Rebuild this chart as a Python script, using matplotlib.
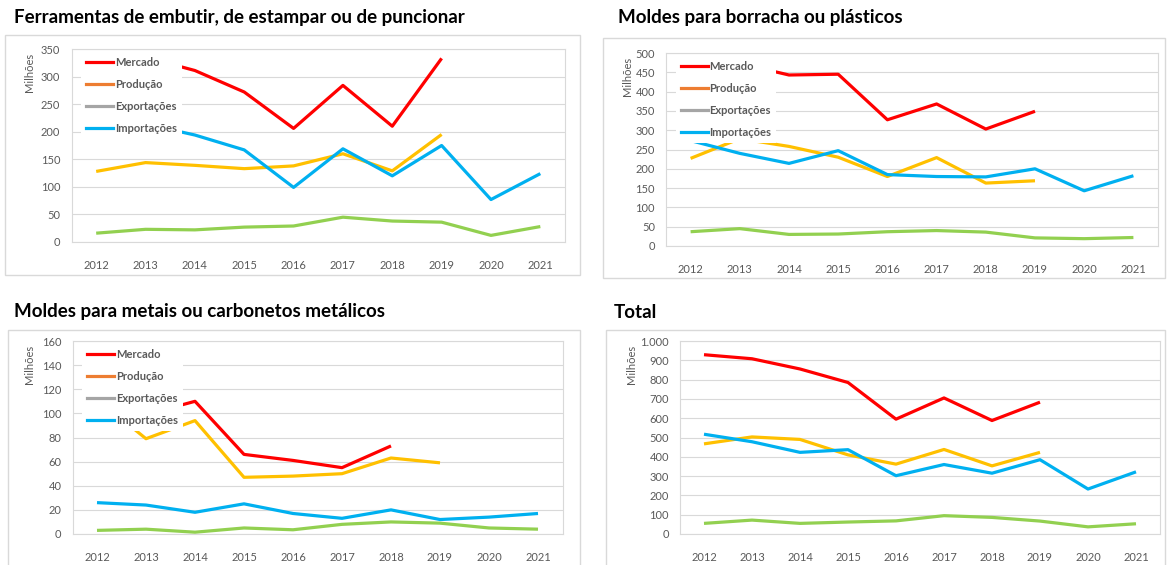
import numpy as np
import matplotlib.pyplot as plt
from matplotlib.lines import Line2D
from matplotlib.patches import Rectangle
from matplotlib.ticker import FuncFormatter

plt.rcParams['font.family'] = ['Lato', 'DejaVu Sans']

anos = np.arange(2012, 2022)
nan = np.nan

# Ferramentas de embutir, de estampar ou de puncionar (milhões)
ferr_mercado = [330, 335, 311, 272, 206, 284, 210, 333, nan, nan]
ferr_producao = [128, 144, 139, 133, 138, 160, 129, 195, nan, nan]
ferr_export = [16, 23, 22, 27, 29, 45, 38, 36, 12, 28]
ferr_import = [218, 214, 194, 167, 99, 169, 120, 175, 77, 124]

# Moldes para borracha ou plásticos
borr_mercado = [463, 473, 443, 445, 327, 368, 303, 349, nan, nan]
borr_producao = [227, 278, 258, 230, 180, 229, 163, 169, nan, nan]
borr_export = [37, 45, 30, 31, 37, 40, 36, 21, 19, 22]
borr_import = [273, 240, 214, 247, 185, 180, 179, 200, 143, 182]

# Moldes para metais ou carbonetos metálicos
met_mercado = [135, 99, 110, 66, 61, 55, 73, nan, nan, nan]
met_producao = [112, 79, 94, 47, 48, 50, 63, 59, nan, nan]
met_export = [3, 4, 1.5, 5, 3.5, 8, 10, 9, 5, 4]
met_import = [26, 24, 18, 25, 17, 13, 20, 12, 14, 17]

# Total
tot_mercado = [929, 908, 855, 785, 595, 705, 588, 683, nan, nan]
tot_producao = [467, 503, 490, 410, 362, 438, 353, 423, nan, nan]
tot_export = [55, 72, 55, 62, 68, 95, 86, 67, 37, 53]
tot_import = [517, 478, 423, 437, 302, 360, 315, 385, 233, 322]

series_nomes = ['Mercado', 'Produção', 'Exportações', 'Importações']
cores_linha = ['#FF0000', '#FFC000', '#92D050', '#00B0F0']
cores_legenda = ['#FF0000', '#ED7D31', '#A5A5A5', '#00B0F0']

W, H = 1168, 565
fig = plt.figure(figsize=(W / 100, H / 100), dpi=100)
fig.patch.set_facecolor('white')


def px_box(l, t, r, b):
    return [l / W, 1 - b / H, (r - l) / W, (b - t) / H]


def painel(titulo, dados, plot_px, borda_px, titulo_px, mil_x, ymax, ystep,
           legenda=True, milhar=False):
    l, t, r, b = borda_px
    fig.patches.append(Rectangle((l / W, 1 - b / H), (r - l) / W, (b - t) / H,
                                 transform=fig.transFigure, fill=False,
                                 edgecolor='#D9D9D9', lw=1.0))
    fig.text(titulo_px[0] / W, 1 - titulo_px[1] / H, titulo, fontsize=13.5,
             fontweight='bold', color='black', ha='left', va='center')

    ax = fig.add_axes(px_box(*plot_px))
    for vals, cor in zip(dados, cores_linha):
        ax.plot(anos, vals, color=cor, lw=2.3, solid_capstyle='butt', zorder=3)
    ax.set_xlim(2011.5, 2021.5)
    ax.set_ylim(0, ymax)
    ax.set_yticks(np.arange(0, ymax + 1, ystep))
    ax.set_xticks(anos)
    if milhar:
        ax.yaxis.set_major_formatter(FuncFormatter(lambda v, p: f'{int(v):,}'.replace(',', '.')))
    ax.grid(axis='y', color='#D9D9D9', lw=0.8)
    ax.set_axisbelow(True)
    for s in ax.spines.values():
        s.set_color('#D9D9D9')
        s.set_linewidth(0.8)
    ax.tick_params(length=0, labelsize=8, colors='#595959')
    ax.tick_params(axis='x', pad=13)
    ax.tick_params(axis='y', pad=8)
    largura = plot_px[2] - plot_px[0]
    altura = plot_px[3] - plot_px[1]
    ax.text((mil_x - plot_px[0]) / largura, 0.98, 'Milhões', transform=ax.transAxes,
            rotation=90, ha='center', va='top', fontsize=8, color='#595959')

    if legenda:
        handles = [Line2D([], [], color=c, lw=2.3) for c in cores_legenda]
        leg = ax.legend(handles, series_nomes, loc='upper left',
                        bbox_to_anchor=(9.5 / largura, 1.0 - 3 / altura), borderaxespad=0,
                        frameon=True, fancybox=False, framealpha=1,
                        facecolor='white', edgecolor='none',
                        prop={'size': 8, 'weight': 'bold'},
                        labelspacing=1.0, handlelength=2.45, handletextpad=0.15,
                        borderpad=0.45)
        for txt in leg.get_texts():
            txt.set_color('#595959')
        leg.set_zorder(5)
    return ax


painel('Ferramentas de embutir, de estampar ou de puncionar',
       [ferr_mercado, ferr_producao, ferr_export, ferr_import],
       (71.5, 49, 565, 242), (5, 35, 580, 275), (14, 18), 30, 350, 50)
painel('Moldes para borracha ou plásticos',
       [borr_mercado, borr_producao, borr_export, borr_import],
       (666, 53, 1158, 246), (603, 38, 1165, 278), (618, 18), 628, 500, 50)
painel('Moldes para metais ou carbonetos metálicos',
       [met_mercado, met_producao, met_export, met_import],
       (72.5, 341, 562.5, 534), (8, 330, 580, 570), (14, 312), 30, 160, 20)
painel('Total',
       [tot_mercado, tot_producao, tot_export, tot_import],
       (680, 341, 1160, 534), (606, 330, 1165, 570), (614, 312), 631, 1000, 100,
       legenda=False, milhar=True)

fig.savefig('out.png', dpi=100, facecolor='white')
